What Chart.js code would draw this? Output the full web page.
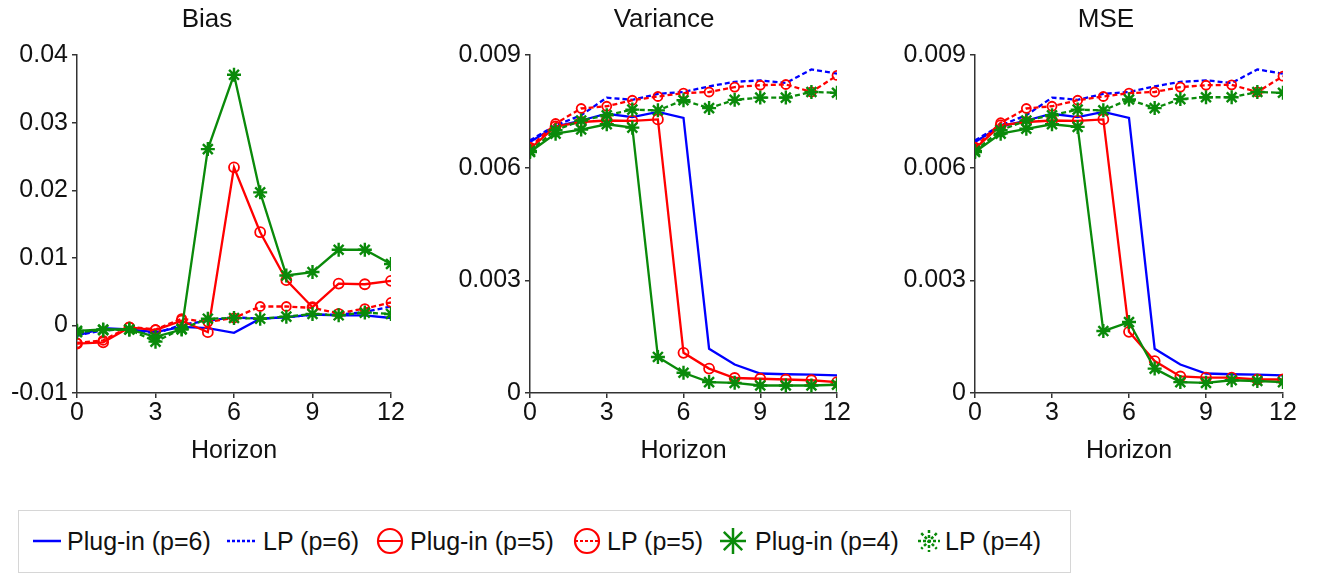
<!DOCTYPE html>
<html><head><meta charset="utf-8">
<script src="https://cdn.jsdelivr.net/npm/chart.js@4.4.0/dist/chart.umd.min.js"></script>
<style>
html,body{margin:0;padding:0;background:#fff;overflow:hidden;}
#wrap{position:relative;width:1317px;height:574px;overflow:hidden;font-family:"Liberation Sans",Arial,sans-serif;}
canvas.pc{position:absolute;top:0;}
#legend{position:absolute;left:18px;top:510px;width:1053px;height:63px;border:1px solid #d6d6d6;box-sizing:border-box;}
.ic{position:absolute;top:16px;}
.tx{position:absolute;top:0;line-height:61px;font-size:25px;color:#111;white-space:nowrap;}
</style></head>
<body><div id="wrap">
<canvas id="c1" class="pc" width="420" height="480" style="left:0px"></canvas>
<canvas id="c2" class="pc" width="450" height="480" style="left:440px"></canvas>
<canvas id="c3" class="pc" width="452" height="480" style="left:880px"></canvas>
<div id="legend"></div>
</div>
<script>
const horizon = [0,1,2,3,4,5,6,7,8,9,10,11,12];
const xTicks = [0,3,6,9,12];
const biasTicks = [-0.01,0,0.01,0.02,0.03,0.04];
const varTicks = [0,0.003,0.006,0.009];
const seriesNames = ['Plug-in (p=6)','LP (p=6)','Plug-in (p=5)','LP (p=5)','Plug-in (p=4)','LP (p=4)'];
const panelTitles = ['Bias','Variance','MSE'];

// Bias
const biasPlug6 = [-0.0015,-0.0004,-0.0006,-0.0010,-0.0002,-0.0004,-0.0011,0.0010,0.0012,0.0016,0.0015,0.0015,0.0011];
const biasLP6   = [-0.0015,-0.0007,-0.0006,-0.0012,0.0001,0.0007,0.0012,0.0010,0.0012,0.0016,0.0016,0.0020,0.0028];
const biasPlug5 = [-0.0027,-0.0025,-0.0003,-0.0007,0.0007,-0.0010,0.0234,0.0138,0.0067,0.0027,0.0062,0.0061,0.0066];
const biasLP5   = [-0.0026,-0.0022,-0.0002,-0.0006,0.0010,0.0005,0.0011,0.0028,0.0028,0.0026,0.0018,0.0025,0.0034];
const biasPlug4 = [-0.0008,-0.0006,-0.0006,-0.0017,-0.0006,0.0261,0.0371,0.0197,0.0074,0.0079,0.0112,0.0112,0.0091];
const biasLP4   = [-0.0010,-0.0007,-0.0006,-0.0024,-0.0005,0.0010,0.0011,0.0010,0.0013,0.0017,0.0015,0.0019,0.0017];

// Variance
const varPlug6 = [0.00669,0.00710,0.00726,0.00744,0.00735,0.00749,0.00733,0.00118,0.00076,0.00052,0.00050,0.00049,0.00047];
const varLP6   = [0.00673,0.00713,0.00740,0.00787,0.00781,0.00797,0.00802,0.00817,0.00829,0.00833,0.00826,0.00862,0.00851];
const varPlug5 = [0.00651,0.00710,0.00722,0.00726,0.00725,0.00729,0.00107,0.00065,0.00040,0.00038,0.00036,0.00034,0.00029];
const varLP5   = [0.00655,0.00718,0.00758,0.00764,0.00780,0.00790,0.00799,0.00802,0.00815,0.00820,0.00822,0.00802,0.00846];
const varPlug4 = [0.00642,0.00691,0.00702,0.00716,0.00707,0.00096,0.00054,0.00029,0.00027,0.00020,0.00020,0.00020,0.00022];
const varLP4   = [0.00645,0.00700,0.00726,0.00740,0.00755,0.00753,0.00780,0.00759,0.00781,0.00787,0.00787,0.00802,0.00800];

// MSE
const msePlug6 = [0.00669,0.00710,0.00726,0.00744,0.00735,0.00749,0.00733,0.00118,0.00076,0.00052,0.00050,0.00049,0.00047];
const mseLP6   = [0.00673,0.00713,0.00740,0.00787,0.00781,0.00797,0.00802,0.00817,0.00829,0.00833,0.00826,0.00862,0.00851];
const msePlug5 = [0.00651,0.00713,0.00722,0.00726,0.00725,0.00729,0.00163,0.00085,0.00044,0.00041,0.00041,0.00036,0.00036];
const mseLP5   = [0.00655,0.00720,0.00758,0.00764,0.00780,0.00790,0.00799,0.00802,0.00815,0.00820,0.00821,0.00802,0.00844];
const msePlug4 = [0.00642,0.00691,0.00704,0.00716,0.00709,0.00165,0.00189,0.00065,0.00029,0.00027,0.00034,0.00032,0.00029];
const mseLP4   = [0.00645,0.00700,0.00726,0.00740,0.00755,0.00753,0.00782,0.00759,0.00783,0.00788,0.00788,0.00802,0.00800];

const BLUE = '#0000ff', RED = '#ff0000', GREEN = '#0a8a0a';
const FONT = '"Liberation Sans", Arial, sans-serif';
const TXT = '#111';
const AX = '#333';

const styles = [
  {color: BLUE,  dash: [],    point: false, order: 6},
  {color: BLUE,  dash: [5,3], point: false, order: 5},
  {color: RED,   dash: [],    point: 'circle', radius: 5, order: 4},
  {color: RED,   dash: [5,3], point: 'circle', radius: 4.5, order: 3},
  {color: GREEN, dash: [],    point: 'star', radius: 7, order: 2},
  {color: GREEN, dash: [5,3], point: 'star', radius: 7, order: 1}
];

function fmt(v){ return String(parseFloat(Number(v).toFixed(4))); }

function makePanel(id, title, arrays, yMin, yMax, yTicks, yW, padR, titleCenter){
  const datasets = arrays.map((arr, k) => {
    const s = styles[k];
    return {
      label: seriesNames[k],
      data: horizon.map((h, i) => ({x: h, y: arr[i]})),
      borderColor: s.color,
      borderWidth: 2.3,
      borderDash: s.dash,
      fill: false,
      tension: 0,
      order: s.order,
      pointStyle: s.point || 'circle',
      pointRadius: s.point ? s.radius : 0,
      pointBorderColor: s.color,
      pointBackgroundColor: 'rgba(0,0,0,0)',
      pointBorderWidth: s.point === 'star' ? 2.4 : 1.8
    };
  });
  const titleShift = {
    id: 'titleShift',
    afterLayout(chart){
      const tb = chart.titleBlock;
      if (tb) { tb.left = 0; tb.right = titleCenter * 2; }
    }
  };
  new Chart(document.getElementById(id), {
    type: 'line',
    data: {datasets},
    plugins: [titleShift],
    options: {
      responsive: false,
      animation: false,
      devicePixelRatio: 1,
      layout: {padding: {left: 0, right: padR, top: 0, bottom: 10}},
      plugins: {
        legend: {display: false},
        tooltip: {enabled: false},
        title: {display: true, text: title, color: TXT, font: {family: FONT, size: 26, weight: 'normal'}, padding: {top: 4, bottom: 20}}
      },
      scales: {
        x: {
          type: 'linear', min: 0, max: 12,
          afterBuildTicks: (ax) => { ax.ticks = xTicks.map(v => ({value: v})); },
          ticks: {autoSkip: false, maxRotation: 0, padding: 0, color: TXT, font: {family: FONT, size: 25}, callback: (v) => fmt(v)},
          grid: {display: true, drawOnChartArea: false, drawTicks: true, tickLength: 5, color: AX, lineWidth: 1.5},
          border: {display: true, color: AX, width: 1.5},
          title: {display: true, text: 'Horizon', color: TXT, font: {family: FONT, size: 25}, padding: {top: 8, bottom: 4}}
        },
        y: {
          type: 'linear', min: yMin, max: yMax,
          afterBuildTicks: (ax) => { ax.ticks = yTicks.map(v => ({value: v})); },
          afterFit: (sc) => { sc.width = yW; },
          ticks: {autoSkip: false, padding: 4, color: TXT, font: {family: FONT, size: 25}, callback: (v) => fmt(v)},
          grid: {display: true, drawOnChartArea: false, drawTicks: true, tickLength: 5, color: AX, lineWidth: 1.5},
          border: {display: true, color: AX, width: 1.5}
        }
      }
    }
  });
}

makePanel('c1', panelTitles[0], [biasPlug6, biasLP6, biasPlug5, biasLP5, biasPlug4, biasLP4], -0.01, 0.04, biasTicks, 77, 29, 207);
makePanel('c2', panelTitles[1], [varPlug6, varLP6, varPlug5, varLP5, varPlug4, varLP4], 0, 0.009, varTicks, 90, 53, 224);
makePanel('c3', panelTitles[2], [msePlug6, mseLP6, msePlug5, mseLP5, msePlug4, mseLP4], 0, 0.009, varTicks, 95, 49, 226);

// Legend (HTML)
const iconX = [33, 227, 376, 573, 719, 915];
const textX = [67, 263, 410, 607, 755, 945];
function iconSvg(k){
  const s = styles[k];
  const c = s.color;
  const dash = s.dash.length ? 'stroke-dasharray="3 2"' : '';
  if (k < 2) return `<svg width="28" height="28"><line x1="0" y1="14" x2="28" y2="14" stroke="${c}" stroke-width="2.5" ${dash}/></svg>`;
  if (k < 4) return `<svg width="28" height="28"><circle cx="14" cy="14" r="12" fill="none" stroke="${c}" stroke-width="2.2"/><line x1="2" y1="14" x2="26" y2="14" stroke="${c}" stroke-width="2" ${dash}/></svg>`;
  const r = k === 4 ? 13 : 11;
  let l = '';
  for (let a = 0; a < 4; a++) {
    const ang = a * Math.PI / 4;
    const dx = r * Math.cos(ang), dy = r * Math.sin(ang);
    l += `<line x1="${14-dx}" y1="${14-dy}" x2="${14+dx}" y2="${14+dy}" stroke="${c}" stroke-width="2.5" ${dash}/>`;
  }
  return `<svg width="28" height="28">${l}</svg>`;
}
const leg = document.getElementById('legend');
let html = '';
seriesNames.forEach((n, k) => {
  html += `<div class="ic" style="left:${iconX[k]-19}px">${iconSvg(k)}</div>`;
  html += `<div class="tx" style="left:${textX[k]-19}px">${n}</div>`;
});
leg.innerHTML = html;
</script>
</body></html>
